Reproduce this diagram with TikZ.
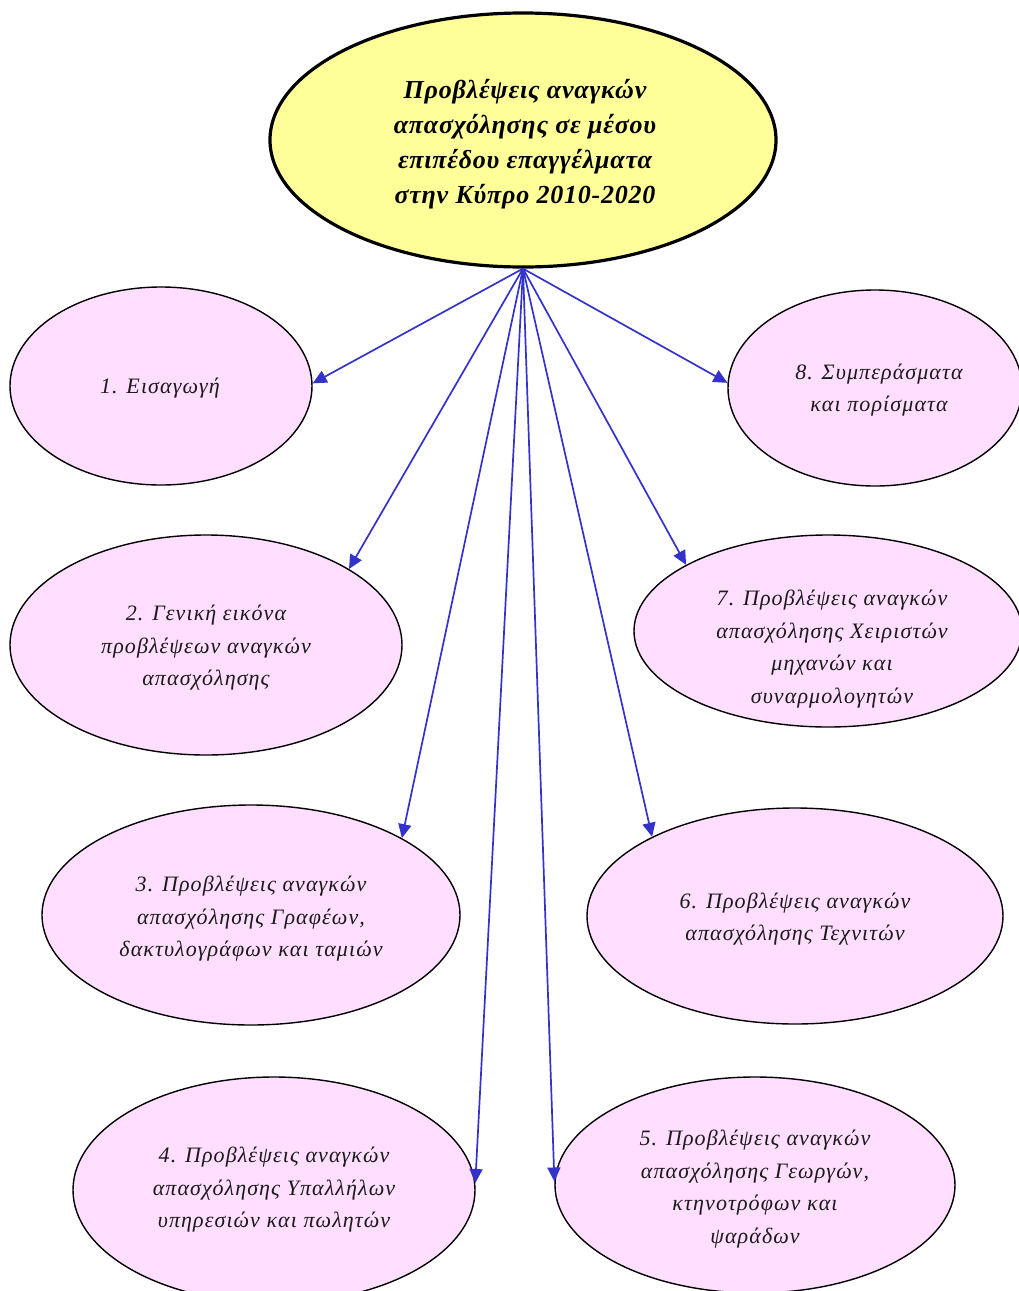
\documentclass[tikz,border=0pt]{standalone}
\usepackage{fontspec}
\setmainfont{Liberation Serif}
\newfontfamily\subfont[LetterSpace=5]{Liberation Serif}
\newfontfamily\titlefont[LetterSpace=3]{Liberation Serif}
\usetikzlibrary{arrows.meta,shapes.geometric}
\definecolor{topfill}{HTML}{FFFF99}
\definecolor{subfill}{HTML}{FFDEFF}
\definecolor{arrowblue}{HTML}{3333CC}
\definecolor{textdark}{HTML}{1A1A1A}
\tikzset{
  topell/.style={ellipse,draw=black,line width=3.2pt,fill=topfill,inner sep=0pt},
  subell/.style={ellipse,draw=black,line width=1.4pt,fill=subfill,inner sep=0pt},
  subtxt/.style={align=center,text=textdark,font=\subfont\fontsize{22}{32.5}\selectfont\itshape,inner sep=0pt},
  toptxt/.style={align=center,text=black,font=\titlefont\fontsize{26}{35}\selectfont\bfseries\itshape,inner sep=0pt},
  link/.style={draw=arrowblue,line width=1.7pt,-{Triangle[length=14pt,width=13pt]}}
}
\begin{document}
\begin{tikzpicture}[x=1pt,y=-1pt]
\useasboundingbox (0,0) rectangle (1018,1291);
% ellipses
\node[topell,minimum width=506pt,minimum height=254pt] (top) at (523,140) {};
\node[subell,minimum width=302pt,minimum height=198pt] (e1) at (161,386) {};
\node[subell,minimum width=294pt,minimum height=196pt] (e8) at (875,388) {};
\node[subell,minimum width=392pt,minimum height=220pt] (e2) at (206,645) {};
\node[subell,minimum width=388pt,minimum height=192pt] (e7) at (828,631) {};
\node[subell,minimum width=418pt,minimum height=220pt] (e3) at (251,915) {};
\node[subell,minimum width=416pt,minimum height=216pt] (e6) at (795,916) {};
\node[subell,minimum width=402pt,minimum height=226pt] (e4) at (274,1190) {};
\node[subell,minimum width=400pt,minimum height=216pt] (e5) at (755,1185) {};
% texts
\node[toptxt] (ttop) at (525,144) {Προβλέψεις αναγκών\\απασχόλησης σε μέσου\\επιπέδου επαγγέλματα\\στην Κύπρο 2010-2020};
\node[subtxt] (t1) at (160,388) {1. Εισαγωγή};
\node[subtxt] (t8) at (879,390) {8. Συμπεράσματα\\και πορίσματα};
\node[subtxt] (t2) at (206,648) {2. Γενική εικόνα\\προβλέψεων αναγκών\\απασχόλησης};
\node[subtxt] (t7) at (832,649) {7. Προβλέψεις αναγκών\\απασχόλησης Χειριστών\\μηχανών και\\συναρμολογητών};
\node[subtxt] (t3) at (251,919) {3. Προβλέψεις αναγκών\\απασχόλησης Γραφέων,\\δακτυλογράφων και ταμιών};
\node[subtxt] (t6) at (795,919) {6. Προβλέψεις αναγκών\\απασχόλησης Τεχνιτών};
\node[subtxt] (t4) at (274,1190) {4. Προβλέψεις αναγκών\\απασχόλησης Υπαλλήλων\\υπηρεσιών και πωλητών};
\node[subtxt] (t5) at (755,1189) {5. Προβλέψεις αναγκών\\απασχόλησης Γεωργών,\\κτηνοτρόφων και\\ψαράδων};
% connectors
\draw[link] (top.south) -- (e1.1);
\draw[link] (top.south) -- (e8.178);
\draw[link] (top.south) -- (e2.28.6);
\draw[link] (top.south) -- (e7.155);
\draw[link] (top.south) -- (e3.27.6);
\draw[link] (top.south) -- (e6.151.7);
\draw[link] (top.south) -- (e4.2);
\draw[link] (top.south) -- (e5.179.4);
\end{tikzpicture}
\end{document}
